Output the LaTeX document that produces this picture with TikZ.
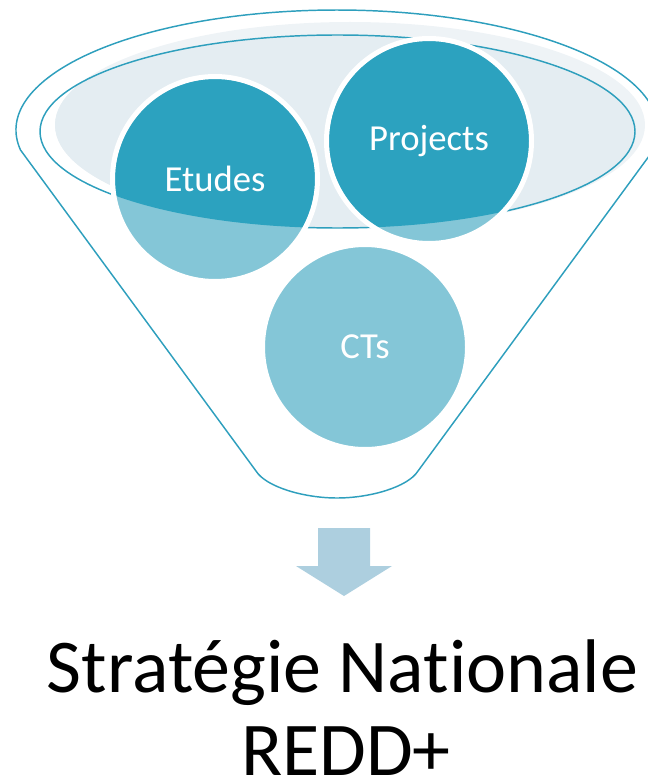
\documentclass[tikz,border=0pt]{standalone}
\usepackage{fontspec}
\setmainfont{Carlito}[RawFeature=-liga]
\definecolor{tealdark}{HTML}{2CA2BF}
\definecolor{teallight}{HTML}{84C6D7}
\definecolor{rim}{HTML}{2E9FBD}
\definecolor{fillA}{HTML}{EEF3F6}
\definecolor{fillB}{HTML}{E4EDF2}
\definecolor{arrowc}{HTML}{ADCFDF}
\begin{document}
\begin{tikzpicture}[x=0.75pt,y=-0.75pt,
  rimline/.style={draw=rim,line width=1.1pt},
  circ/.style={circle,draw=white,line width=3.75pt,minimum size=153.75pt,inner sep=0pt,text=white,font=\fontsize{27.5}{33}\selectfont},
  titletext/.style={font=\fontsize{57}{68}\selectfont,inner sep=0pt,anchor=base},
  inner/.style={x radius=223.125pt,y radius=72.375pt},
  lightfill/.style={x radius=221.25pt,y radius=77.25pt}]
\useasboundingbox (0,0) rectangle (648,781);
\coordinate (c1) at (215,179);
\coordinate (c2) at (429,141);
\coordinate (c3) at (365,347);
\coordinate (ic) at (337.5,131.5);
\coordinate (fc) at (350,125);
% funnel outline
\draw[rimline,line join=round] (20.5,150)
  arc[start angle=189.59,end angle=-9.59,x radius=240.75pt,y radius=90pt]
  -- (418,471) .. controls (408,487) and (370,498) .. (337,498)
  .. controls (304,498) and (266,487) .. (256,471) -- cycle;
% top fills
\fill[fillA] (fc) ellipse[lightfill];
\begin{scope}
  \clip (ic) ellipse[inner];
  \fill[fillB] (fc) ellipse[lightfill];
\end{scope}
\draw[rimline] (ic) ellipse[inner];
% circles
\fill[teallight] (c1) circle[radius=76.875pt];
\fill[teallight] (c2) circle[radius=76.875pt];
\fill[teallight] (c3) circle[radius=76.875pt];
\begin{scope}
  \clip (ic) ellipse[inner];
  \fill[tealdark] (c1) circle[radius=75pt];
  \fill[tealdark] (c2) circle[radius=75pt];
\end{scope}
\node[circ] (etudes) at (c1) {Etudes};
\node[circ] (projects) at (c2) {Projects};
\node[circ] (cts) at (c3) {CTs};
% arrow
\fill[arrowc] (318,528) -- (370,528) -- (370,566) -- (392,566) -- (344,596)
  -- (296,566) -- (318,566) -- cycle;
% title
\node[titletext] (t1) at (342.5,692) {Stratégie Nationale};
\node[titletext] (t2) at (346,775) {REDD+};
\end{tikzpicture}
\end{document}
